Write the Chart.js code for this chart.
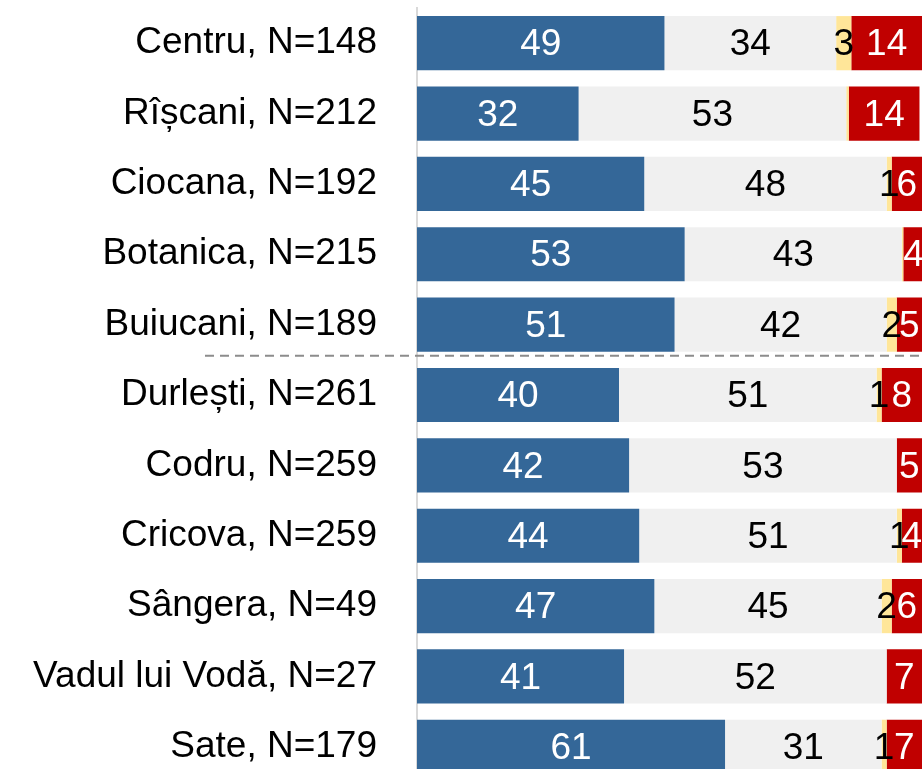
<!DOCTYPE html>
<html>
<head>
<meta charset="utf-8">
<script src="https://cdn.jsdelivr.net/npm/chart.js@4"></script>
<style>
  html, body { margin: 0; padding: 0; background: #fff; overflow: hidden; }
  canvas { display: block; }
</style>
</head>
<body>
<canvas id="chart" width="922" height="790"></canvas>
<script>
// Sectoare / localități cu mărimea eșantionului
const categories = [
  'Centru, N=148', 'Rîșcani, N=212', 'Ciocana, N=192', 'Botanica, N=215', 'Buiucani, N=189',
  'Durlești, N=261', 'Codru, N=259', 'Cricova, N=259', 'Sângera, N=49', 'Vadul lui Vodă, N=27', 'Sate, N=179'
];
const blueVals   = [49, 32, 45, 53, 51, 40, 42, 44, 47, 41, 61];
const greyVals   = [34, 53, 48, 43, 42, 51, 53, 51, 45, 52, 31];
const yellowVals = [3, 0.5, 1, 0.3, 2, 1, 0, 1, 2, 0, 1];
const redVals    = [14, 14, 6, 4, 5, 8, 5, 4, 6, 7, 7];

const FONT = "'Liberation Sans', Arial, sans-serif";
const SEPARATOR_AFTER = 4; // linie punctată între oraș și suburbii

// etichete cu valori în mijlocul fiecărui segment
const valueLabels = {
  id: 'valueLabels',
  afterDatasetsDraw(chart) {
    const ctx = chart.ctx;
    ctx.save();
    ctx.font = '37px ' + FONT;
    ctx.textAlign = 'center';
    ctx.textBaseline = 'middle';
    chart.data.datasets.forEach((ds, i) => {
      chart.getDatasetMeta(i).data.forEach((bar, j) => {
        const v = ds.data[j];
        if (v < 1) return;
        ctx.fillStyle = ds.labelColor;
        ctx.fillText(String(Math.round(v)), (bar.base + bar.x) / 2, bar.y + 2);
      });
    });
    ctx.restore();
  }
};

const separator = {
  id: 'separator',
  afterDatasetsDraw(chart) {
    const ctx = chart.ctx, y = chart.scales.y.getPixelForValue(SEPARATOR_AFTER + 0.5) - 4;
    ctx.save();
    ctx.strokeStyle = '#8c8c8c';
    ctx.lineWidth = 2;
    ctx.setLineDash([9, 6]);
    ctx.beginPath();
    ctx.moveTo(205, y);
    ctx.lineTo(chart.width, y);
    ctx.stroke();
    ctx.restore();
  }
};

const bar = (data, color, labelColor) => ({
  data, backgroundColor: color, labelColor, borderWidth: 0,
  categoryPercentage: 1, barPercentage: 0.77,
});

new Chart(document.getElementById('chart'), {
  type: 'bar',
  data: {
    labels: categories,
    datasets: [
      bar(blueVals, '#346798', '#ffffff'),
      bar(greyVals, '#f0f0f0', '#000000'),
      bar(yellowVals, '#ffe699', '#000000'),
      bar(redVals, '#c00000', '#ffffff'),
    ],
  },
  options: {
    indexAxis: 'y',
    responsive: false,
    animation: false,
    layout: { padding: { top: 8, bottom: 8, left: 0, right: 0 } },
    plugins: { legend: { display: false }, tooltip: { enabled: false } },
    scales: {
      x: { stacked: true, min: 0, max: 100, display: false },
      y: {
        stacked: true,
        grid: { display: false, drawTicks: false },
        border: { display: true, color: '#d9d9d9', width: 2 },
        ticks: { color: '#000', padding: 40, font: { family: FONT, size: 37 } },
        afterFit(scale) {
          scale.width = 417;
          scale.paddingTop = 0;
          scale.paddingBottom = 0;
        },
      },
    },
  },
  plugins: [valueLabels, separator],
});
</script>
</body>
</html>
